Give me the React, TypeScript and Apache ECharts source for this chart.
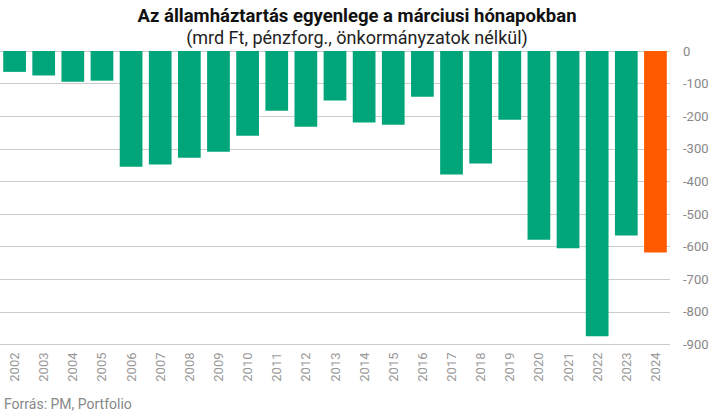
import React, { useEffect, useRef } from "react";
import * as echarts from "echarts";

const years = ["2002","2003","2004","2005","2006","2007","2008","2009","2010","2011","2012","2013","2014","2015","2016","2017","2018","2019","2020","2021","2022","2023","2024"];
const balance = [-64,-75,-94,-91,-355,-348,-327,-309,-260,-183,-232,-152,-219,-226,-140,-379,-345,-211,-579,-605,-875,-566,-618];
const highlightYear = "2024";
const titleText = "Az államháztartás egyenlege a márciusi hónapokban";
const subtitleText = "(mrd Ft, pénzforg., önkormányzatok nélkül)";
const sourceText = "Forrás: PM, Portfolio";

export default function App() {
  const ref = useRef<HTMLDivElement>(null);
  useEffect(() => {
    if (!ref.current) return;
    const chart = echarts.init(ref.current, null, { renderer: "svg" });
    chart.setOption({
      animation: false,
      title: [
        {
          text: titleText,
          left: "center",
          top: 6,
          padding: 0,
          textStyle: { fontFamily: "Roboto", fontWeight: "bold", fontSize: 18.5, lineHeight: 20, color: "#111" },
        },
        {
          text: subtitleText,
          left: "center",
          top: 27,
          padding: 0,
          textStyle: { fontFamily: "Roboto", fontWeight: "normal", fontSize: 18, lineHeight: 20, color: "#222" },
        },
        {
          text: sourceText,
          left: 4,
          top: 396,
          padding: 0,
          textStyle: { fontFamily: "Roboto", fontWeight: "normal", fontSize: 14, lineHeight: 16, color: "#888" },
        },
      ],
      grid: { left: 0, right: 44, top: 51, bottom: 74.5, containLabel: false },
      xAxis: {
        type: "category",
        data: years,
        position: "bottom",
        axisLine: { show: false, onZero: false },
        axisTick: { show: false },
        axisLabel: { rotate: 90, margin: 8, fontFamily: "Roboto", fontSize: 13, color: "#999", interval: 0 },
      },
      yAxis: {
        type: "value",
        position: "right",
        min: -900,
        max: 0,
        interval: 100,
        axisLine: { show: false },
        axisTick: { show: false },
        splitLine: { lineStyle: { color: "#cccccc", width: 1 } },
        axisLabel: { align: "left", margin: 13, fontFamily: "Roboto", fontSize: 13, color: "#888" },
      },
      series: [
        {
          type: "bar",
          barCategoryGap: "22%",
          data: balance.map((v, i) => ({
            value: v,
            itemStyle: { color: years[i] === highlightYear ? "#ff5a00" : "#00a57a" },
          })),
        },
      ],
    });
    return () => chart.dispose();
  }, []);
  return <div ref={ref} style={{ position: "absolute", left: 0, top: 0, width: 714, height: 419 }} />;
}
